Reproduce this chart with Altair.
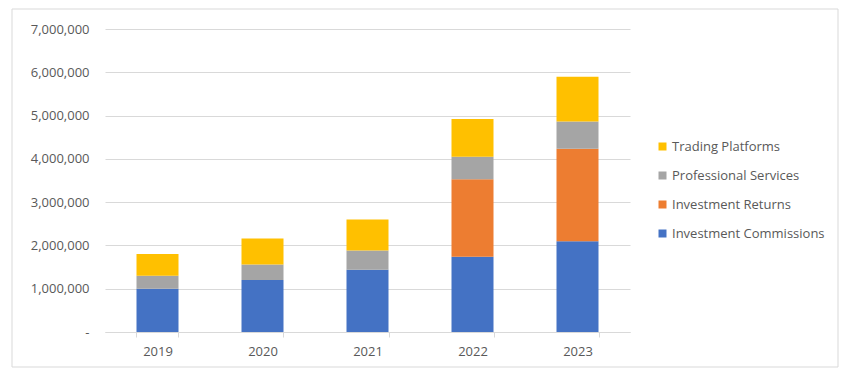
import altair as alt
import pandas as pd

years = ["2019", "2020", "2021", "2022", "2023"]
series = ["Trading Platforms", "Professional Services", "Investment Returns", "Investment Commissions"]
colors = ["#FFC000", "#A5A5A5", "#ED7D31", "#4472C4"]

investment_commissions = [1000000, 1200000, 1440000, 1740000, 2095000]
investment_returns = [0, 0, 0, 1790000, 2140000]
professional_services = [300000, 360000, 445000, 520000, 630000]
trading_platforms = [500000, 600000, 715000, 870000, 1030000]

values_by_series = {
    "Investment Commissions": investment_commissions,
    "Investment Returns": investment_returns,
    "Professional Services": professional_services,
    "Trading Platforms": trading_platforms,
}
stack_rank = {"Investment Commissions": 0, "Investment Returns": 1,
              "Professional Services": 2, "Trading Platforms": 3}

rows = []
for s, vals in values_by_series.items():
    for y, v in zip(years, vals):
        if v > 0:
            rows.append({"Year": y, "Series": s, "Value": v, "rank": stack_rank[s]})
df = pd.DataFrame(rows)

FONT = "Open Sans"
TXT = "#595959"
GRID = "#D9D9D9"

bars = alt.Chart(df).mark_bar().encode(
    x=alt.X("Year:N", sort=years,
            scale=alt.Scale(paddingInner=0.6, paddingOuter=0.3),
            axis=alt.Axis(title=None, labelAngle=0, tickBand="extent", ticks=True,
                          tickSize=5, tickColor=GRID, domainColor=GRID,
                          labelPadding=8, grid=False)),
    y=alt.Y("Value:Q", stack="zero",
            scale=alt.Scale(domain=[0, 7000000], nice=False),
            axis=alt.Axis(title=None, values=[0, 1000000, 2000000, 3000000, 4000000,
                                              5000000, 6000000, 7000000],
                          labelExpr="datum.value == 0 ? '-\u00a0\u00a0\u00a0' : format(datum.value, ',')",
                          ticks=False, domain=False, labelPadding=16,
                          gridColor=GRID)),
    color=alt.Color("Series:N",
                    scale=alt.Scale(domain=series, range=colors),
                    legend=alt.Legend(title=None, orient="none", legendX=551, legendY=111,
                                      symbolType="square", symbolSize=64,
                                      symbolStrokeWidth=0, rowPadding=15,
                                      labelOffset=3)),
    order=alt.Order("rank:Q", sort="ascending"),
)

frame = alt.Chart(alt.Data(values=[{}])).mark_rect(
    fill="transparent", stroke=GRID, strokeWidth=1
).encode(
    x=alt.value(-93), x2=alt.value(733), y=alt.value(-20), y2=alt.value(338)
)

chart = alt.layer(frame, bars).properties(
    width=525, height=303,
    autosize=alt.AutoSizeParams(type="none"),
    padding={"left": 97, "top": 21, "right": 215, "bottom": 40},
).configure(
    font=FONT,
).configure_view(
    stroke=None
).configure_axis(
    labelFont=FONT, labelFontSize=13, labelColor=TXT,
).configure_legend(
    labelFont=FONT, labelFontSize=13, labelColor=TXT,
)

chart.save("out.html", embed_options={"renderer": "svg", "actions": False})
